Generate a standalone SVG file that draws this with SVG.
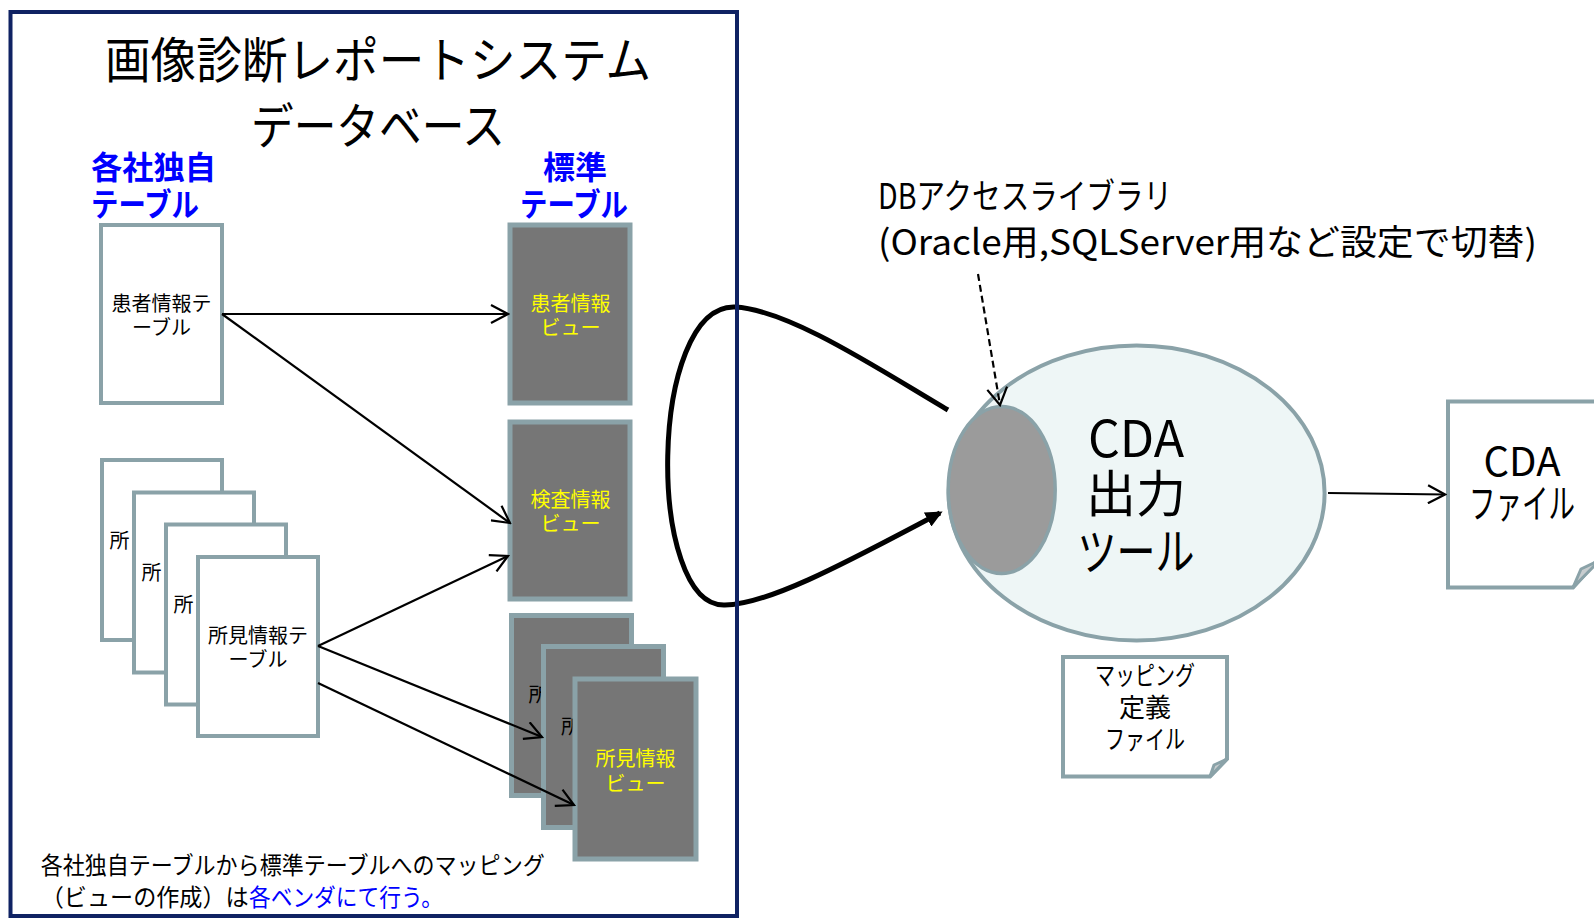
<svg xmlns="http://www.w3.org/2000/svg" width="1594" height="918" viewBox="0 0 1594 918">
<defs>
<style>
text { font-family: "Noto Sans CJK JP", "Noto Sans", sans-serif; }
.tbl { fill: #ffffff; stroke: #8aa2a8; stroke-width: 4; }
.view { fill: #767676; stroke: #8aa2a8; stroke-width: 5; }
.note { fill: #ffffff; stroke: #8aa2a8; stroke-width: 4; stroke-linejoin: miter; }
.fold { fill: #c8cdcf; stroke: #8aa2a8; stroke-width: 3; stroke-linejoin: round; }
.t20 { font-size: 20px; fill: #000000; }
.y20 { font-size: 20px; fill: #ffff00; }
.blueb { font-size: 32px; font-weight: bold; fill: #0000ff; }
.mid { text-anchor: middle; }
.conn { stroke: #000000; stroke-width: 2.2; fill: none; marker-end: url(#openArrow); }
</style>
<marker id="openArrow" markerUnits="userSpaceOnUse" viewBox="0 0 20 20" markerWidth="20" markerHeight="20" refX="18" refY="10" orient="auto">
<path d="M1,1 L18,10 L1,19" fill="none" stroke="#000000" stroke-width="2.2"/>
</marker>
<marker id="dashArrow" markerUnits="userSpaceOnUse" viewBox="0 0 20 24" markerWidth="20" markerHeight="24" refX="18" refY="12" orient="auto">
<path d="M1,2 L18,12 L1,22" fill="none" stroke="#000000" stroke-width="2.2"/>
</marker>
<marker id="solidArrow" markerUnits="userSpaceOnUse" viewBox="0 0 18 16" markerWidth="18" markerHeight="16" refX="14" refY="8" orient="auto">
<path d="M0,0 L17,8 L0,16 Z" fill="#000000"/>
</marker>
</defs>

<rect width="1594" height="918" fill="#ffffff"/>

<g id="title">
<text x="378" y="77.5" font-size="49" class="mid" textLength="546" lengthAdjust="spacingAndGlyphs">画像診断レポートシステム</text>
<text x="378" y="143.5" font-size="49" class="mid" textLength="254" lengthAdjust="spacingAndGlyphs">データベース</text>
</g>

<g id="label-own">
<text x="91" y="178.5" class="blueb" textLength="125" lengthAdjust="spacingAndGlyphs">各社独自</text>
<text x="91" y="216" class="blueb" textLength="108" lengthAdjust="spacingAndGlyphs">テーブル</text>
</g>
<g id="label-std">
<text x="575" y="178.5" class="blueb mid">標準</text>
<text x="574" y="216" class="blueb mid" textLength="108" lengthAdjust="spacingAndGlyphs">テーブル</text>
</g>

<g id="patient-table">
<rect x="101" y="225" width="121" height="178" class="tbl"/>
<text x="161.5" y="310.5" class="t20 mid">患者情報テ</text>
<text x="161.5" y="334.5" class="t20 mid">ーブル</text>
</g>

<g id="finding-tables">
<rect x="102" y="460" width="120" height="180" class="tbl"/>
<text x="109.5" y="547.5" class="t20">所</text>
<rect x="134" y="492.5" width="120" height="180" class="tbl"/>
<text x="141.5" y="580" class="t20">所</text>
<rect x="166" y="524.5" width="120" height="180" class="tbl"/>
<text x="173.5" y="612" class="t20">所</text>
<rect x="198" y="557" width="120" height="179" class="tbl"/>
<text x="258" y="643" class="t20 mid">所見情報テ</text>
<text x="258" y="667" class="t20 mid">ーブル</text>
</g>

<g id="patient-view">
<rect x="510" y="225" width="120" height="178" class="view"/>
<text x="570.5" y="310.5" class="y20 mid">患者情報</text>
<text x="570.5" y="334.5" class="y20 mid">ビュー</text>
</g>

<g id="exam-view">
<rect x="510" y="422" width="120" height="177" class="view"/>
<text x="570.5" y="507" class="y20 mid">検査情報</text>
<text x="570.5" y="531" class="y20 mid">ビュー</text>
</g>

<g id="finding-views">
<rect x="511.5" y="615.5" width="120" height="180" class="view"/>
<text x="528.5" y="702" class="t20">所</text>
<rect x="543.5" y="646.5" width="120" height="181" class="view"/>
<text x="561" y="734" class="t20">所</text>
<rect x="575" y="679" width="121" height="180" class="view"/>
<text x="635.5" y="766" class="y20 mid">所見情報</text>
<text x="635.5" y="790.5" class="y20 mid">ビュー</text>
</g>

<g id="mapping-note">
<text x="40.7" y="874" font-size="24" textLength="504" lengthAdjust="spacingAndGlyphs">各社独自テーブルから標準テーブルへのマッピング</text>
<text x="40.7" y="906" font-size="24" textLength="208" lengthAdjust="spacingAndGlyphs">（ビューの作成）は</text>
<text x="249" y="906" font-size="24" fill="#0000ff" textLength="194" lengthAdjust="spacingAndGlyphs">各ベンダにて行う。</text>
</g>

<g id="db-library-label">
<text x="878" y="209" font-size="35" textLength="294" lengthAdjust="spacingAndGlyphs">DBアクセスライブラリ</text>
<text x="878" y="255" font-size="35" textLength="659" lengthAdjust="spacingAndGlyphs">(Oracle用,SQLServer用など設定で切替)</text>
</g>

<g id="cda-tool">
<ellipse cx="1136.6" cy="493" rx="188" ry="147.5" fill="#eef6f6" stroke="#8aa2a8" stroke-width="4"/>
<ellipse cx="1001.7" cy="490" rx="53.5" ry="83.5" fill="#9b9b9b" stroke="#8aa2a8" stroke-width="3.5"/>
<text x="1136" y="456.5" font-size="50" class="mid">CDA</text>
<text x="1136" y="512" font-size="50" class="mid">出力</text>
<text x="1136" y="569.5" font-size="50" class="mid" textLength="117" lengthAdjust="spacingAndGlyphs">ツール</text>
</g>

<g id="mapping-file">
<polygon points="1063,657 1227,657 1227,759 1210,776.5 1063,776.5" class="note"/>
<path d="M1210,776.5 L1214,765 L1227,759 Z" class="fold"/>
<text x="1145" y="685" font-size="26" class="mid" textLength="100" lengthAdjust="spacingAndGlyphs">マッピング</text>
<text x="1145" y="717" font-size="26" class="mid">定義</text>
<text x="1145" y="749" font-size="26" class="mid" textLength="80" lengthAdjust="spacingAndGlyphs">ファイル</text>
</g>

<g id="cda-file">
<polygon points="1448,401.5 1602,401.5 1602,555 1573,587.5 1448,587.5" class="note"/>
<path d="M1573,587.5 L1581,569 L1600,560 Z" class="fold"/>
<text x="1522" y="476" font-size="40" class="mid">CDA</text>
<text x="1522" y="518" font-size="40" class="mid" textLength="106" lengthAdjust="spacingAndGlyphs">ファイル</text>
</g>

<g id="connectors">
<line x1="222" y1="314" x2="508" y2="314" class="conn"/>
<line x1="222" y1="314" x2="510" y2="523" class="conn"/>
<line x1="318" y1="646" x2="508" y2="556" class="conn"/>
<line x1="318" y1="646" x2="542" y2="737" class="conn"/>
<line x1="318" y1="683" x2="574" y2="805" class="conn"/>
<path d="M948,410 C880,370 790,310 735,307 C648,304 646,608 725,605 C770,605 860,555 940,513" fill="none" stroke="#000000" stroke-width="5" marker-end="url(#solidArrow)"/>
<line x1="978" y1="274" x2="1000" y2="405" stroke="#000000" stroke-width="2.2" stroke-dasharray="7,4" marker-end="url(#dashArrow)"/>
<line x1="1328" y1="493" x2="1445" y2="494.5" class="conn"/>
</g>

<g id="db-frame">
<rect x="10.5" y="12" width="726.5" height="904" fill="none" stroke="#0f2263" stroke-width="4"/>
</g>
</svg>
